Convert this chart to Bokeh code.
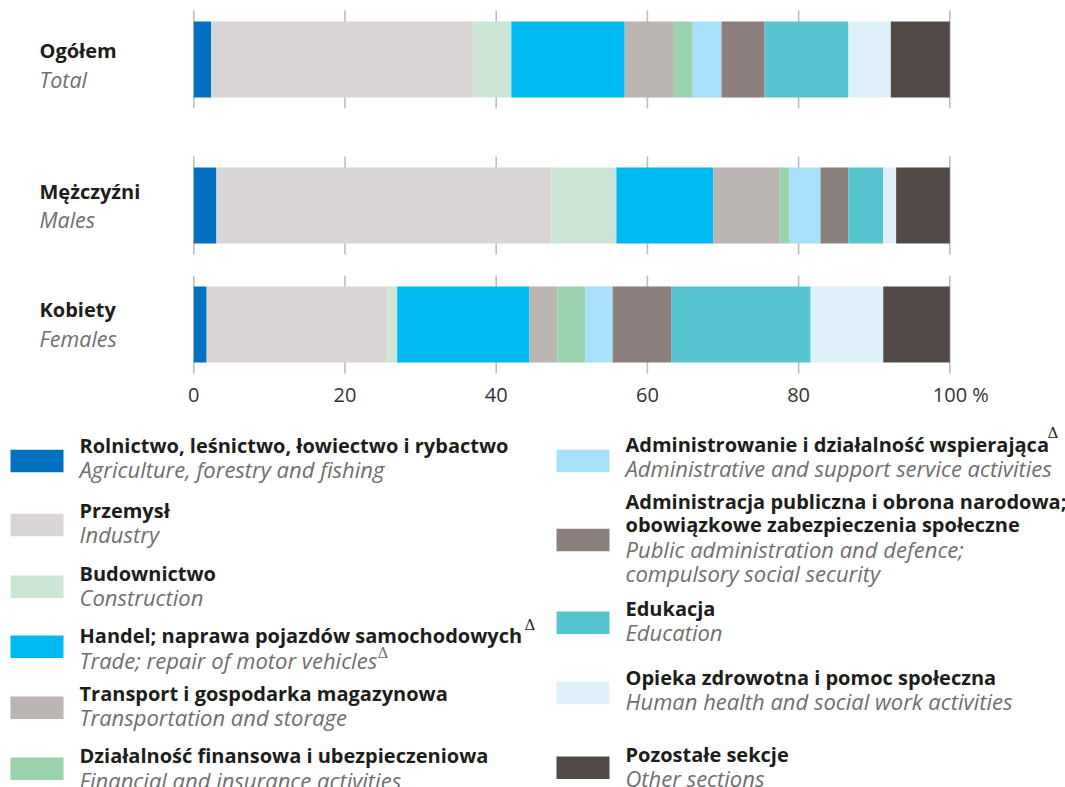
from bokeh.plotting import figure
from bokeh.models import Range1d, ColumnDataSource
from bokeh.core.properties import value
from bokeh.embed import file_html
from bokeh.resources import INLINE

# ---------------- data ----------------
groups = ["Ogółem", "Mężczyźni", "Kobiety"]
groups_en = ["Total", "Males", "Females"]

agriculture = [2.3, 3.0, 1.7]
industry = [34.7, 44.3, 23.9]
construction = [5.0, 8.6, 1.3]
trade = [15.0, 12.8, 17.5]
transport = [6.5, 8.8, 3.7]
finance = [2.5, 1.3, 3.7]
admin_support = [3.8, 4.1, 3.6]
public_admin = [5.7, 3.7, 7.8]
education = [11.1, 4.6, 18.4]
health = [5.6, 1.7, 9.6]
other = [7.8, 7.1, 8.8]

ticks = [0, 20, 40, 60, 80, 100]
tick_labels = ["0", "20", "40", "60", "80", "100 %"]

section_keys = ["agriculture", "industry", "construction", "trade", "transport",
                "finance", "admin_support", "public_admin", "education", "health", "other"]
section_colors = ["#0070C0", "#D9D5D4", "#CCE6D6", "#00B9F1", "#BAB5B2",
                  "#9BD3AE", "#A9E0F9", "#8A7F7C", "#57C5D0", "#DEF1FB", "#524A47"]
legend_pl = [
    ["Rolnictwo, leśnictwo, łowiectwo i rybactwo"],
    ["Przemysł"],
    ["Budownictwo"],
    ["Handel; naprawa pojazdów samochodowych"],
    ["Transport i gospodarka magazynowa"],
    ["Działalność finansowa i ubezpieczeniowa"],
    ["Administrowanie i działalność wspierająca"],
    ["Administracja publiczna i obrona narodowa;", "obowiązkowe zabezpieczenia społeczne"],
    ["Edukacja"],
    ["Opieka zdrowotna i pomoc społeczna"],
    ["Pozostałe sekcje"],
]
legend_en = [
    ["Agriculture, forestry and fishing"],
    ["Industry"],
    ["Construction"],
    ["Trade; repair of motor vehicles"],
    ["Transportation and storage"],
    ["Financial and insurance activities"],
    ["Administrative and support service activities"],
    ["Public administration and defence;", "compulsory social security"],
    ["Education"],
    ["Human health and social work activities"],
    ["Other sections"],
]

# ---------------- layout (page pixel coordinates) ----------------
W, H = 1065, 787
bar_centers = [59, 205, 324]
bar_h = 76
grid_ext = 49
x0_px, x100_px = 193.3, 949.3
scale = (x100_px - x0_px) / 100.0
TY = -9  # text vertical correction

p = figure(width=W, height=H, output_backend="svg", toolbar_location=None,
           x_axis_type=None, y_axis_type=None, min_border=0,
           x_range=Range1d((0 - x0_px) / scale, (W - x0_px) / scale),
           y_range=Range1d(H, 0))
p.extra_x_ranges = {"px": Range1d(0, W)}
p.outline_line_color = None
p.background_fill_color = "white"
p.border_fill_color = "white"
p.xgrid.visible = False
p.ygrid.visible = False

# grid stubs around each bar
gx, gy0, gy1 = [], [], []
for c in bar_centers:
    for t in ticks:
        gx.append(t)
        gy0.append(c - grid_ext)
        gy1.append(c + grid_ext)
p.segment(x0=gx, y0=gy0, x1=gx, y1=gy1, line_color="#BDBDBD", line_width=1.6)

# stacked bars
data = dict(y=bar_centers, agriculture=agriculture, industry=industry,
            construction=construction, trade=trade, transport=transport,
            finance=finance, admin_support=admin_support, public_admin=public_admin,
            education=education, health=health, other=other)
src = ColumnDataSource(data)
p.hbar_stack(section_keys, y="y", height=bar_h, color=section_colors, source=src,
             line_color=None)

FONT = value("Open Sans")
DARK = "#1d1d1b"
GREY = "#6f6f6f"

def ty(vals):
    return [v + TY for v in vals]

# category labels
p.text(x=[39] * 3, y=ty([59, 200, 318]), text=groups, x_range_name="px",
       text_font=FONT, text_font_size="20px", text_font_style="bold",
       text_color=DARK, text_baseline="alphabetic", text_align="left")
p.text(x=[39] * 3, y=ty([88, 228, 347]), text=groups_en, x_range_name="px",
       text_font=FONT, text_font_size="21.5px", text_font_style="italic",
       text_color=GREY, text_baseline="alphabetic", text_align="left")

# tick labels
p.text(x=ticks[:-1], y=ty([403] * 5), text=tick_labels[:-1], text_font=FONT,
       text_font_size="20px", text_color="#333333", text_baseline="alphabetic",
       text_align="center")
p.text(x=[ticks[-1]], y=ty([403]), text=[tick_labels[-1]], text_font=FONT,
       text_font_size="20px", text_color="#333333", text_baseline="alphabetic",
       text_align="left", x_offset=-17)

# legend
swatch_x = [36.5] * 6 + [582.5] * 5
swatch_y = [460.5, 524.5, 586.3, 646.3, 707.3, 768.3, 460.5, 539.5, 622.3, 692.3, 767.3]
text_x = [79] * 6 + [625] * 5
bold_base = [[454], [519], [582], [644], [702], [764],
             [453.3], [510, 533.3], [617.3], [686], [762.7]]
ital_base = [[477.5], [542], [605], [668], [725], [788],
             [476.5], [557, 581], [640.7], [709.3], [786]]

p.rect(x=swatch_x, y=swatch_y, width=53, height=22.5, x_range_name="px",
       fill_color=section_colors, line_color=None)

bx, by, bt, ix, iy, it = [], [], [], [], [], []
for i in range(len(section_keys)):
    for line, yb in zip(legend_pl[i], bold_base[i]):
        bx.append(text_x[i]); by.append(yb + TY); bt.append(line)
    for line, yb in zip(legend_en[i], ital_base[i]):
        ix.append(text_x[i]); iy.append(yb + TY); it.append(line)
p.text(x=bx, y=by, text=bt, x_range_name="px", text_font=FONT,
       text_font_size="20px", text_font_style="bold", text_color=DARK,
       text_baseline="alphabetic", text_align="left")
p.text(x=ix, y=iy, text=it, x_range_name="px", text_font=FONT,
       text_font_size="22px", text_font_style="italic", text_color=GREY,
       text_baseline="alphabetic", text_align="left")

# superscript deltas
p.text(x=[524, 377, 1047], y=ty([633, 661, 441]), text=["Δ", "Δ", "Δ"], x_range_name="px",
       text_font=value("DejaVu Serif"), text_font_size="15px",
       text_color=[DARK, GREY, DARK], text_baseline="alphabetic", text_align="left")

open("out.html", "w").write(file_html(p, INLINE))
